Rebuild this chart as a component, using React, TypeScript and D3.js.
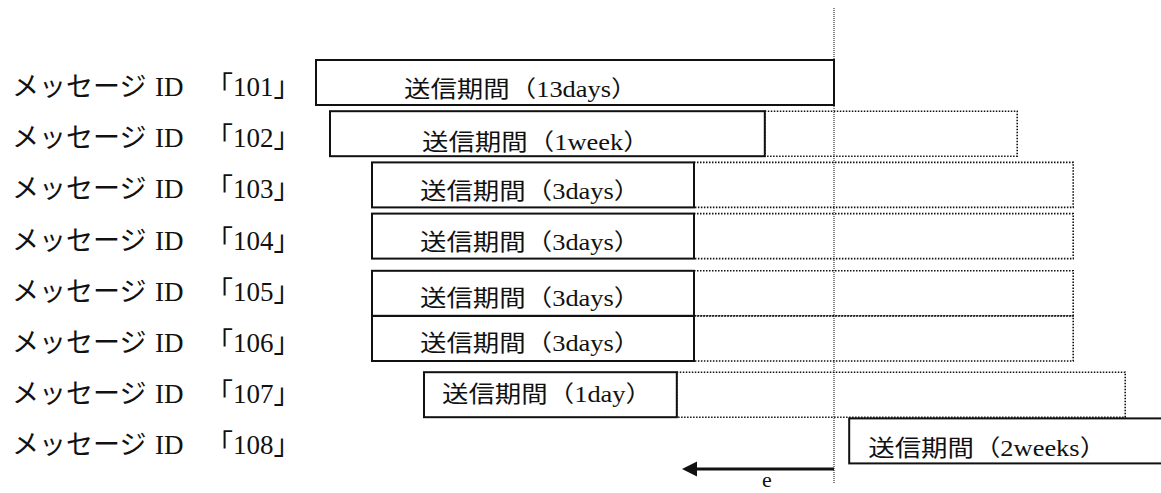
import React from "react";
import * as d3 from "d3";

// ---- data ----
const messageIds = ["101", "102", "103", "104", "105", "106", "107", "108"];
const periodLabels = ["13days", "1week", "3days", "3days", "3days", "3days", "1day", "2weeks"];
// schematic time axis (units relative to "now" = 0)
const sendStart = [-12.95, -12.6, -11.55, -11.55, -11.55, -11.55, -10.25, 0.38];
const sendEnd = [0, -1.73, -3.5, -3.5, -3.5, -3.5, -3.93, 8.6];
const extendEnd: (number | null)[] = [null, 4.58, 5.98, 5.98, 5.98, 5.98, 7.28, null];
const nowValue = 0;
const arrowValue = -3.8;

// ---- layout (styles) ----
const W = 1161;
const H = 493;
const rowTopOffset = [0, 0, 0, 0, 6, 0, 5, 0];
const textInset = [88, 92, 48, 48, 48, 48, 18, 19];
const textDy = [14, 16, 14, 14, 13, 12, 7, 15];
const FONT =
  "'Liberation Serif', 'Times New Roman', 'DejaVu Serif', 'Noto Sans CJK JP', serif";

export default function App() {
  const x = d3.scaleLinear().domain([-13, 8]).range([314, 1154]);
  const rowIdx = d3.range(messageIds.length);
  const y = d3.scaleLinear().domain([0, 1]).range([60, 111.2]);
  const boxH = 45;
  const nowX = x(nowValue);
  const arrowY = 469;
  const tStyle = { fontFamily: FONT };

  return (
    <svg
      width={W}
      height={H}
      style={{ position: "absolute", left: 0, top: 0, background: "#fff" }}
    >
      <rect x={0} y={0} width={W} height={H} fill="#fff" />
      {/* now line */}
      <line
        x1={nowX}
        x2={nowX}
        y1={8}
        y2={483}
        stroke="#333"
        strokeWidth={1.2}
        strokeDasharray="1,1"
      />
      {rowIdx.map((i) => {
        const top = y(i) + rowTopOffset[i];
        const x0 = x(sendStart[i]);
        const x1 = x(sendEnd[i]);
        const ext = extendEnd[i];
        const cy = top + boxH / 2;
        return (
          <g key={messageIds[i]}>
            <text fontSize={27} fill="#111" y={y(i) + 36} style={tStyle}>
              <tspan x={12}>メッセージ</tspan>
              <tspan x={155}>ID</tspan>
              <tspan x={206}>「{messageIds[i]}」</tspan>
            </text>
            {ext !== null && (
              <rect
                x={x1}
                y={top}
                width={x(ext) - x1}
                height={boxH}
                fill="none"
                stroke="#111"
                strokeWidth={1.6}
                strokeDasharray="1.5,1.5"
              />
            )}
            <rect
              x={x0}
              y={top}
              width={x1 - x0}
              height={boxH}
              fill="none"
              stroke="#111"
              strokeWidth={2}
            />
            <text
              fontSize={23}
              fill="#111"
              style={tStyle}
              transform={`translate(${x0 + textInset[i]},${cy + textDy[i]}) scale(1.15,1)`}
            >
              送信期間（{periodLabels[i]}）
            </text>
          </g>
        );
      })}
      {/* arrow */}
      <line
        x1={nowX}
        x2={x(arrowValue) + 14}
        y1={arrowY}
        y2={arrowY}
        stroke="#111"
        strokeWidth={2.8}
      />
      <path
        d={`M${x(arrowValue)},${arrowY} L${x(arrowValue) + 15},${arrowY - 7.5} L${x(arrowValue) + 15},${arrowY + 7.5} Z`}
        fill="#111"
      />
      <text x={767} y={487} fontSize={22} textAnchor="middle" fill="#111" style={tStyle}>
        e
      </text>
    </svg>
  );
}
